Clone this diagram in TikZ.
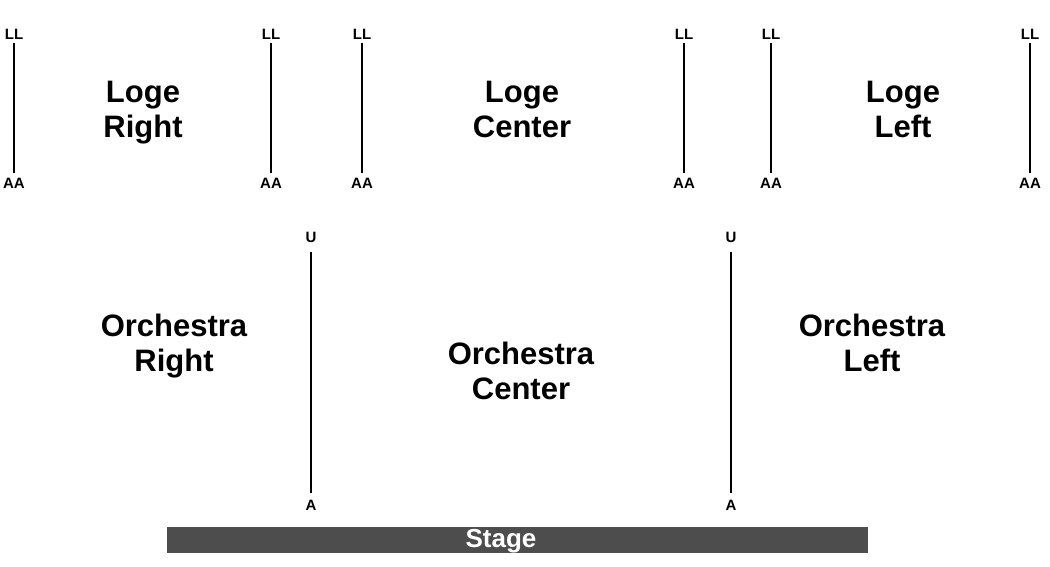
\documentclass[tikz,border=0pt]{standalone}
\usepackage{fontspec}
\setmainfont{Liberation Sans}
\begin{document}
\begin{tikzpicture}[x=1pt,y=-1pt,
  sec/.style={font=\fontsize{31}{35}\selectfont\bfseries,align=center,inner sep=0pt,text depth=0pt,anchor=south},
  lbl/.style={font=\fontsize{15}{15}\selectfont\bfseries,inner sep=0pt},
  rowline/.style={line width=1.8pt,black}]
\useasboundingbox (0,0) rectangle (1050,566);
% loge
\foreach \n/\x in {a/14,b/271,c/362,d/684,e/771,f/1030}{
  \node[lbl] (ll\n) at (\x,34) {LL};
  \node[lbl] (aa\n) at (\x,183) {AA};
  \coordinate (llt\n) at (\x,43);
  \coordinate (llb\n) at (\x,173);
  \draw[rowline] (llt\n) -- (llb\n);
}
% orchestra
\foreach \n/\x in {a/311,b/731}{
  \node[lbl] (u\n) at (\x,237) {U};
  \node[lbl] (a\n) at (\x,505) {A};
  \coordinate (ut\n) at (\x,252);
  \coordinate (ab\n) at (\x,493);
  \draw[rowline] (ut\n) -- (ab\n);
}
\node[sec] (lr) at (143,138) {Loge\\Right};
\node[sec] (lc) at (522,138) {Loge\\Center};
\node[sec] (lf) at (903,138) {Loge\\Left};
\node[sec] (orr) at (174,372) {Orchestra\\Right};
\node[sec] (oc) at (521,400) {Orchestra\\Center};
\node[sec] (ol) at (872,372) {Orchestra\\Left};
\fill[fill={rgb,255:red,77;green,77;blue,77}] (167,527) rectangle (868,553);
\node[font=\fontsize{26}{26}\selectfont\bfseries,text=white,inner sep=0pt] (stage) at (501,541) {Stage};
\end{tikzpicture}
\end{document}
